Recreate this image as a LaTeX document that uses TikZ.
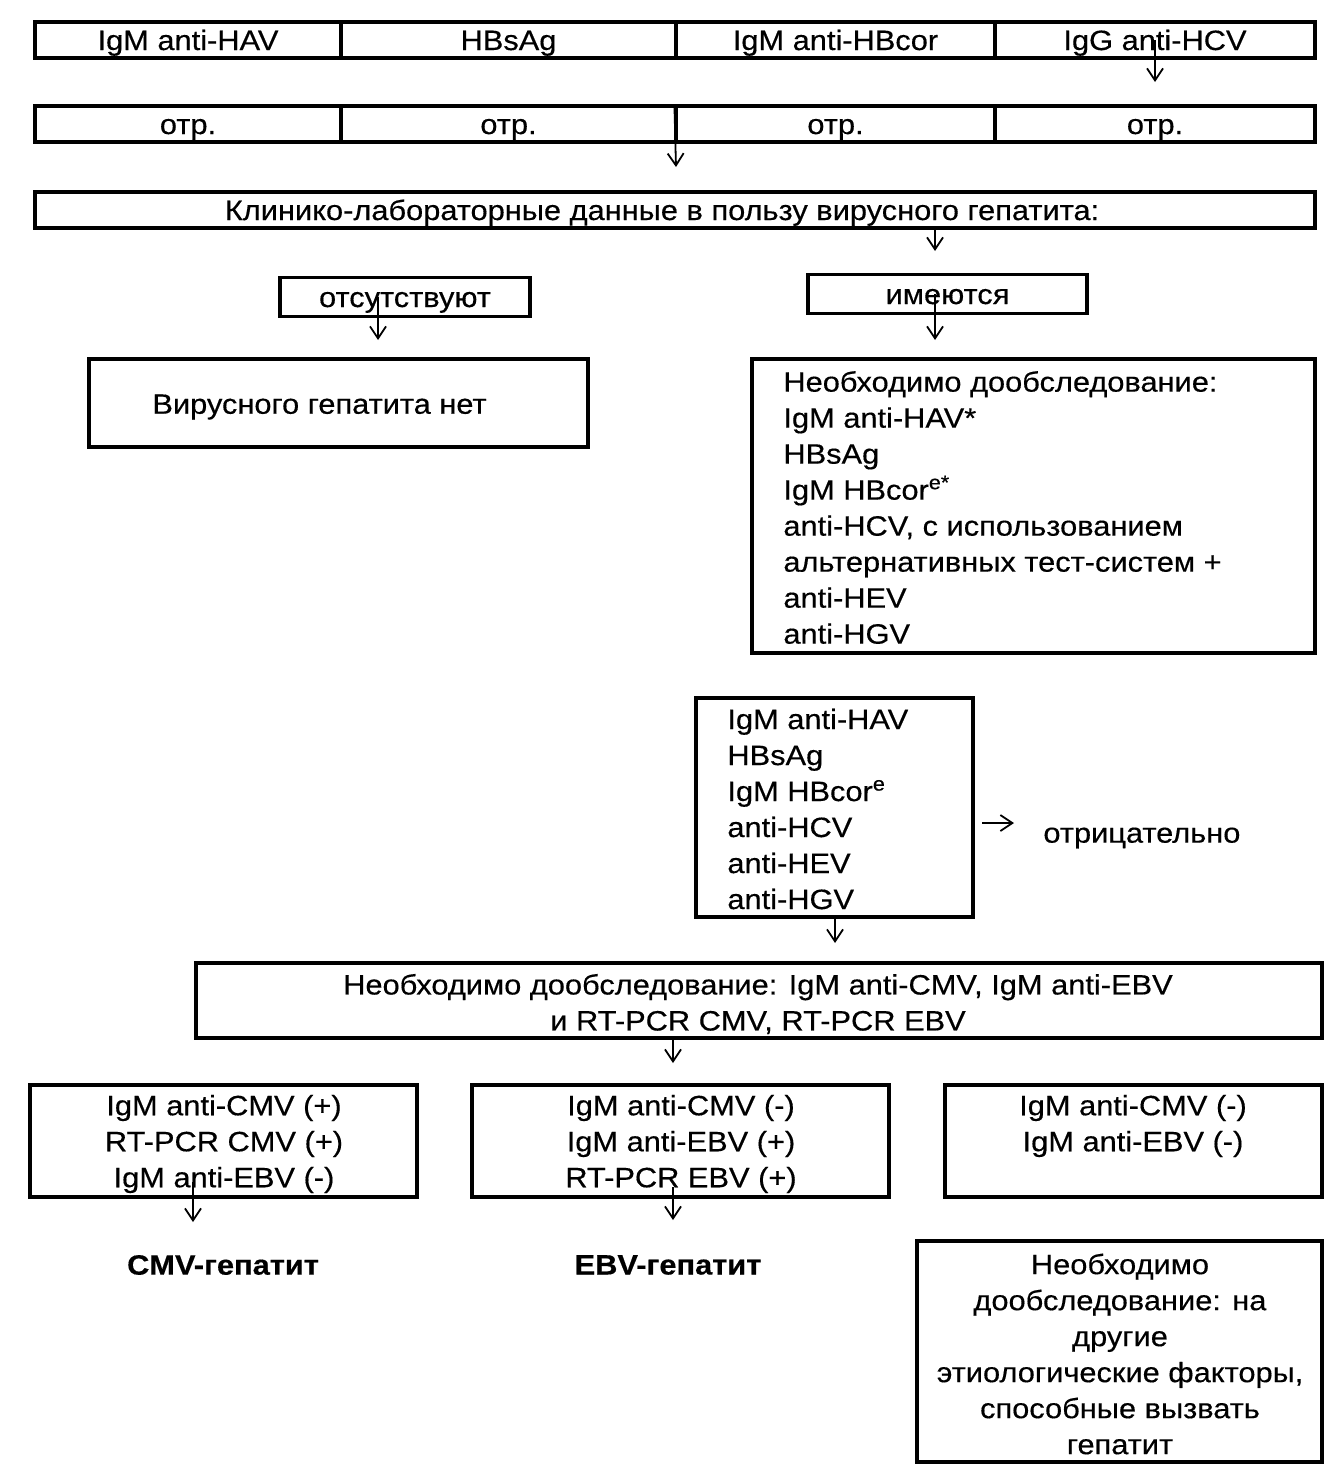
\documentclass[tikz,border=0pt]{standalone}
\usepackage{fontspec}
\setmainfont{Liberation Sans}[FakeStretch=1.1,FakeBold=0.4]
\usetikzlibrary{arrows.meta}
\begin{document}
\begin{tikzpicture}[x=0.5pt,y=-0.5pt,
  every node/.style={font=\fontsize{14pt}{18pt}\selectfont},
  box/.style={draw, line width=1.6pt, inner sep=0pt},
  one/.style={text height=11pt, text depth=1pt},
  txt/.style={inner sep=0pt, align=left},
  ctxt/.style={inner sep=0pt, align=center},
  arr/.style={-{Straight Barb[length=6pt,width=8pt]}, line width=0.9pt}]
\useasboundingbox (0,0) rectangle (1342,1478);
% row 1
\node[box, one, minimum width=153pt, minimum height=18pt] (r1a) at (188,40) {IgM anti-HAV};
\node[box, one, minimum width=167.5pt, minimum height=18pt] (r1b) at (508.5,40) {HBsAg};
\node[box, one, minimum width=159.5pt, minimum height=18pt] (r1c) at (835.5,40) {IgM anti-HBcor};
\node[box, one, minimum width=160pt, minimum height=18pt] (r1d) at (1155,40) {IgG anti-HCV};
% row 2
\node[box, one, minimum width=153pt, minimum height=18pt] (r2a) at (188,124) {отр.};
\node[box, one, minimum width=167.5pt, minimum height=18pt] (r2b) at (508.5,124) {отр.};
\node[box, one, minimum width=159.5pt, minimum height=18pt] (r2c) at (835.5,124) {отр.};
\node[box, one, minimum width=160pt, minimum height=18pt] (r2d) at (1155,124) {отр.};
% row 3
\node[box, minimum width=640pt, minimum height=18pt] (r3) at (675,210) {};
\node[ctxt, one] (r3t) at (662,210) {Клинико-лабораторные данные в пользу вирусного гепатита:};
% branches
\node[box, one, minimum width=125pt, minimum height=19.5pt] (abs) at (405,297) {отсутствуют};
\node[box, one, minimum width=139.5pt, minimum height=19.5pt] (has) at (947.5,294) {имеются};
\node[box, minimum width=249.5pt, minimum height=44pt] (no) at (338.5,403) {};
\node[txt, anchor=west] (not) at (152,407) {Вирусного гепатита нет};
\node[box, minimum width=281.5pt, minimum height=147pt] (need) at (1033.5,506) {};
\node[txt, anchor=west] (needt) at (783,507.5) {Необходимо дообследование:\\IgM anti-HAV*\\HBsAg\\IgM HBcor\textsuperscript{e*}\\anti-HCV, с использованием\\альтернативных тест-систем +\\anti-HEV\\anti-HGV};
% list
\node[box, minimum width=138.5pt, minimum height=109.5pt] (lst) at (834.5,807.5) {};
\node[txt, anchor=west] (lstt) at (727,809) {IgM anti-HAV\\HBsAg\\IgM HBcor\textsuperscript{e}\\anti-HCV\\anti-HEV\\anti-HGV};
\node[txt, anchor=west] (neg) at (1043,838) {отрицательно};
% big
\node[box, minimum width=563pt, minimum height=37.5pt] (big) at (759,1000.5) {};
\node[ctxt] (bigt) at (758,1004) {Необходимо дообследование: IgM anti-CMV, IgM anti-EBV\\и RT-PCR CMV, RT-PCR EBV};
% bottom
\node[box, minimum width=193.5pt, minimum height=56pt] (bA) at (223.5,1141) {};
\node[ctxt] (tA) at (224,1144) {IgM anti-CMV (+)\\RT-PCR CMV (+)\\IgM anti-EBV (-)};
\node[box, minimum width=208.5pt, minimum height=56pt] (bB) at (680.5,1141) {};
\node[ctxt] (tB) at (681,1144) {IgM anti-CMV (-)\\IgM anti-EBV (+)\\RT-PCR EBV (+)};
\node[box, minimum width=188.5pt, minimum height=56pt] (bC) at (1133.5,1141) {};
\node[ctxt] (tC) at (1133,1126) {IgM anti-CMV (-)\\IgM anti-EBV (-)};
\node[ctxt, font=\fontsize{14pt}{18pt}\selectfont\bfseries] (cmv) at (223,1265) {CMV-гепатит};
\node[ctxt, font=\fontsize{14pt}{18pt}\selectfont\bfseries] (ebv) at (668,1265) {EBV-гепатит};
\node[box, minimum width=202.5pt, minimum height=110.5pt] (bD) at (1119.5,1351.5) {};
\node[ctxt] (tD) at (1120,1354) {Необходимо\\дообследование: на\\другие\\этиологические факторы,\\способные вызвать\\гепатит};
% arrows
\coordinate (a1e) at (1155,82);
\coordinate (a2e) at (676,167);
\coordinate (a3e) at (935,251);
\coordinate (a4e) at (378,340);
\coordinate (a5e) at (935,340);
\coordinate (a6e) at (835,943);
\coordinate (a7e) at (673,1063);
\coordinate (a8s) at (193,1182);
\coordinate (a8e) at (193,1222);
\coordinate (a9s) at (673,1187);
\coordinate (a9e) at (673,1220);
\coordinate (a10s) at (982,823);
\coordinate (a10e) at (1014,823);
\draw[arr] (r1d.center) -- (a1e);
\draw[arr] (r2c.north west) -- (a2e);
\draw[arr] (a3e |- r3.south) -- (a3e);
\draw[arr] (a4e |- abs.center) -- (a4e);
\draw[arr] (a5e |- has.center) -- (a5e);
\draw[arr] (a6e |- lst.south) -- (a6e);
\draw[arr] (a7e |- big.south) -- (a7e);
\draw[arr] (a8s) -- (a8e);
\draw[arr] (a9s) -- (a9e);
\draw[arr] (a10s) -- (a10e);
\end{tikzpicture}
\end{document}
